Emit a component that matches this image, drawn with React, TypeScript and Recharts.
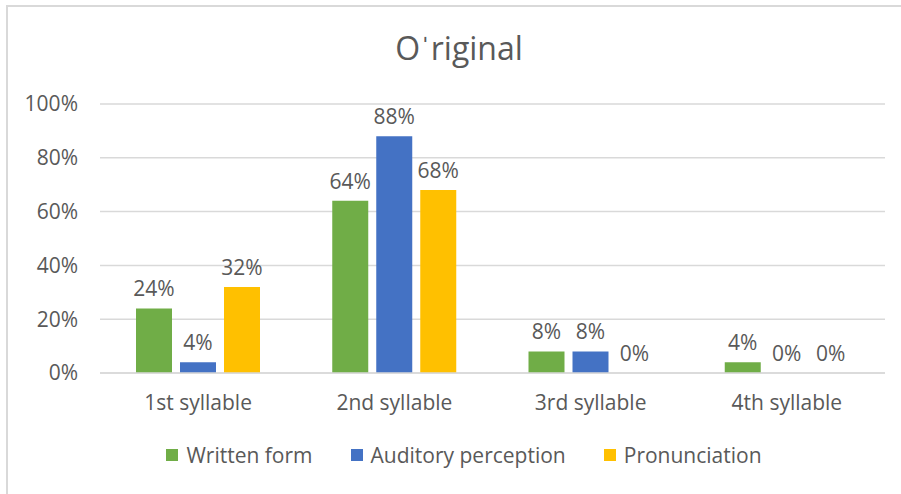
import React from 'react';
import { BarChart, Bar, XAxis, YAxis, CartesianGrid, Legend, LabelList } from 'recharts';

const categories = ['1st syllable', '2nd syllable', '3rd syllable', '4th syllable'];
const writtenForm = [0.24, 0.64, 0.08, 0.04];
const auditoryPerception = [0.04, 0.88, 0.08, 0];
const pronunciation = [0.32, 0.68, 0, 0];
const yTicks = [0, 0.2, 0.4, 0.6, 0.8, 1];

const series = [
  { key: 'written', name: 'Written form', color: '#70ad47' },
  { key: 'auditory', name: 'Auditory perception', color: '#4472c4' },
  { key: 'pron', name: 'Pronunciation', color: '#ffc000' },
];

const data = categories.map((name, i) => ({
  name,
  written: writtenForm[i],
  auditory: auditoryPerception[i],
  pron: pronunciation[i],
}));

const FONT = '"Open Sans", sans-serif';
const TEXT = '#595959';
const pct = (v: number) => `${Math.round(v * 100)}%`;

const LegendContent = () => (
  <div style={{ display: 'flex', justifyContent: 'center', fontFamily: FONT, fontSize: 21, color: TEXT }}>
    {series.map((s) => (
      <div key={s.key} style={{ display: 'flex', alignItems: 'center', margin: '0 19px' }}>
        <span style={{ width: 12, height: 12, background: s.color, display: 'inline-block', marginRight: 8 }} />
        <span>{s.name}</span>
      </div>
    ))}
  </div>
);

const App: React.FC = () => {
  return (
    <div style={{ position: 'absolute', left: 0, top: 0, width: 901, height: 494, background: '#fff' }}>
      <div
        style={{
          position: 'absolute', left: 6, top: 5, right: 0, bottom: 0,
          borderTop: '2px solid #d9d9d9', borderLeft: '2px solid #d9d9d9',
        }}
      />
      <div
        style={{
          position: 'absolute', left: 0, width: 918, top: 27, textAlign: 'center',
          fontFamily: FONT, fontSize: 32, color: TEXT, lineHeight: '42px',
        }}
      >
        Oˈriginal
      </div>
      <BarChart
        width={901}
        height={494}
        data={data}
        margin={{ top: 104, right: 16, left: 0, bottom: 61 }}
        barCategoryGap={36}
        barGap={8}
      >
        <CartesianGrid vertical={false} stroke="#d9d9d9" strokeWidth={1.5} />
        <XAxis
          dataKey="name"
          height={60}
          axisLine={{ stroke: '#d9d9d9', strokeWidth: 1.5 }}
          tickLine={false}
          tickSize={0}
          tickMargin={22}
          tick={{ fill: TEXT, fontSize: 21, fontFamily: FONT }}
        />
        <YAxis
          width={100}
          domain={[0, 1]}
          ticks={yTicks}
          tickFormatter={pct}
          axisLine={false}
          tickLine={false}
          tickSize={0}
          tickMargin={22}
          tick={{ fill: TEXT, fontSize: 21, fontFamily: FONT }}
        />
        <Legend
          verticalAlign="middle"
          align="center"
          content={<LegendContent />}
          wrapperStyle={{ top: 441, left: 0, width: 928 }}
        />
        {series.map((s) => (
          <Bar
            key={s.key}
            dataKey={s.key}
            name={s.name}
            fill={s.color}
            minPointSize={0.01}
            isAnimationActive={false}
          >
            <LabelList
              dataKey={s.key}
              position="top"
              offset={12}
              formatter={(v: any) => pct(Number(v))}
              style={{ fill: TEXT, fontSize: 21, fontFamily: FONT }}
            />
          </Bar>
        ))}
      </BarChart>
    </div>
  );
};

export default App;
